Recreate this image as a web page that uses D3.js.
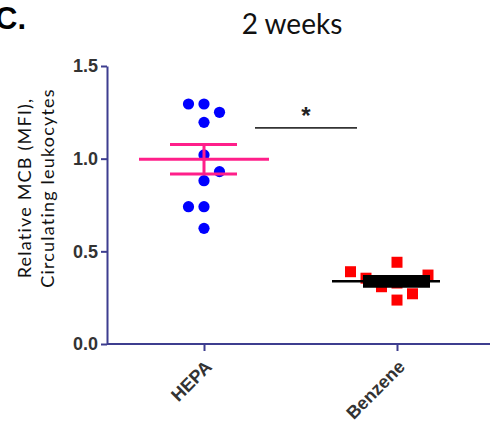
<!DOCTYPE html>
<html>
<head>
<meta charset="utf-8">
<script src="https://cdn.jsdelivr.net/npm/d3@7"></script>
<style>
  html, body { margin: 0; padding: 0; background: #fff; }
  svg { display: block; }
</style>
</head>
<body>
<svg id="chart" width="490" height="440"></svg>
<script>
// Groups and measured values (relative MCB, MFI)
const categories = ["HEPA", "Benzene"];
const hepaValues = [1.295, 1.295, 1.25, 1.196, 1.02, 0.93, 0.881, 0.741, 0.741, 0.624];
const benzeneValues = [0.39, 0.355, 0.309, 0.441, 0.329, 0.237, 0.338, 0.271, 0.372];
const yTicks = [0, 0.5, 1.0, 1.5];
const title = "2 weeks";
const panelLetter = "C.";
const yLabelLines = ["Relative MCB (MFI),", "Circulating leukocytes"];
const significance = { from: "HEPA", to: "Benzene", level: 1.166, text: "*" };

// Horizontal slot of each point inside its column (scatter layout)
const hepaSlots = [-1, 0, 1, 0, 0, 1, 0, -1, 0, 0];
const benzeneSlots = [-3, -2, -1, 0, 0, 0, 1, 1, 2];

const W = 490, H = 440;
const axisColor = "#3d3d8f";
const svg = d3.select("#chart");

const y = d3.scaleLinear().domain([0, 1.5]).range([344, 66]);
const x = d3.scalePoint().domain(categories).range([204, 397]);
const axisX = 107;

// Panel letter and title
svg.append("text")
  .attr("x", -5).attr("y", 29)
  .attr("font-family", "Liberation Sans, Arial, sans-serif")
  .attr("font-weight", "bold").attr("font-size", 31)
  .attr("fill", "#000")
  .text(panelLetter);

svg.append("text")
  .attr("x", 292).attr("y", 34)
  .attr("text-anchor", "middle")
  .attr("font-family", "Lato, sans-serif")
  .attr("font-size", 28)
  .attr("fill", "#111")
  .text(title);

// Y axis
const yAxis = d3.axisLeft(y)
  .tickValues(yTicks)
  .tickFormat(d3.format(".1f"))
  .tickSize(6)
  .tickSizeOuter(0)
  .tickPadding(3);

const gy = svg.append("g")
  .attr("transform", `translate(${axisX},0)`)
  .call(yAxis);
gy.select(".domain").attr("stroke", axisColor).attr("stroke-width", 2);
gy.selectAll(".tick line").attr("stroke", axisColor).attr("stroke-width", 2);
gy.selectAll(".tick text")
  .attr("font-family", "Liberation Sans, Arial, sans-serif")
  .attr("font-weight", "bold")
  .attr("font-size", 18)
  .attr("fill", "#333");

// Y axis title (two lines, rotated)
const yl = svg.append("text")
  .attr("transform", "translate(0,188) rotate(-90)")
  .attr("text-anchor", "middle")
  .attr("font-family", "Lato, sans-serif")
  .attr("font-size", 18)
  .attr("letter-spacing", 1.2)
  .attr("fill", "#111");
yl.selectAll("tspan").data(yLabelLines).join("tspan")
  .attr("x", 0)
  .attr("y", (d, i) => 31 + i * 23)
  .text(d => d);

// X axis
svg.append("line")
  .attr("x1", axisX).attr("x2", W)
  .attr("y1", y(0)).attr("y2", y(0))
  .attr("stroke", axisColor).attr("stroke-width", 2);

const xAxis = d3.axisBottom(x).tickSize(7).tickSizeOuter(0).tickFormat("");
const gx = svg.append("g")
  .attr("transform", `translate(0,${y(0)})`)
  .call(xAxis);
gx.select(".domain").remove();
gx.selectAll(".tick line").attr("stroke", axisColor).attr("stroke-width", 2);

svg.append("g").selectAll("text").data(categories).join("text")
  .attr("transform", d => `translate(${x(d) + 9},${y(0) + 24}) rotate(-45)`)
  .attr("text-anchor", "end")
  .attr("font-family", "Liberation Sans, Arial, sans-serif")
  .attr("font-weight", "bold")
  .attr("font-size", 18)
  .attr("fill", "#333")
  .text(d => d);

// Points
const slotW = 15.5;
svg.append("g").selectAll("circle").data(hepaValues).join("circle")
  .attr("cx", (d, i) => x("HEPA") + hepaSlots[i] * slotW)
  .attr("cy", d => y(d))
  .attr("r", 5.6)
  .attr("fill", "#0000ff");

const sq = 11;
svg.append("g").selectAll("rect").data(benzeneValues).join("rect")
  .attr("x", (d, i) => x("Benzene") + benzeneSlots[i] * slotW - sq / 2)
  .attr("y", d => y(d) - sq / 2)
  .attr("width", sq).attr("height", sq)
  .attr("fill", "#ff0000");

// Mean and SEM
function stats(v) {
  const m = d3.mean(v);
  const sem = d3.deviation(v) / Math.sqrt(v.length);
  return { m, sem };
}
const groups = [
  { key: "HEPA", values: hepaValues, color: "#ff1f8a", meanL: 65, meanR: 65, capW: 3, meanW: 3 },
  { key: "Benzene", values: benzeneValues, color: "#000", meanL: 65, meanR: 43, capW: 5, meanW: 2.5 }
];
const capL = 34, capR = 33;
groups.forEach(g => {
  const { m, sem } = stats(g.values);
  const cx = x(g.key);
  const s = svg.append("g").attr("stroke", g.color);
  s.append("line").attr("x1", cx - g.meanL).attr("x2", cx + g.meanR)
    .attr("y1", y(m)).attr("y2", y(m)).attr("stroke-width", g.meanW);
  s.append("line").attr("x1", cx).attr("x2", cx)
    .attr("y1", y(m + sem)).attr("y2", y(m - sem)).attr("stroke-width", 3);
  [m + sem, m - sem].forEach(v => {
    s.append("line").attr("x1", cx - capL).attr("x2", cx + capR)
      .attr("y1", y(v)).attr("y2", y(v)).attr("stroke-width", g.capW);
  });
  // fill between caps where they nearly touch
  if (g.capW > 3) {
    s.append("rect")
      .attr("x", cx - capL).attr("width", capL + capR)
      .attr("y", y(m + sem)).attr("height", y(m - sem) - y(m + sem))
      .attr("fill", g.color).attr("stroke", "none");
  }
});

// Significance marker
const sigY = y(significance.level);
const sx1 = x(significance.from) + 51, sx2 = x(significance.to) - 40;
svg.append("line")
  .attr("x1", sx1).attr("x2", sx2)
  .attr("y1", sigY).attr("y2", sigY)
  .attr("stroke", "#333").attr("stroke-width", 1.6);
svg.append("text")
  .attr("x", (sx1 + sx2) / 2).attr("y", sigY - 4)
  .attr("text-anchor", "middle")
  .attr("font-family", "Liberation Sans, Arial, sans-serif")
  .attr("font-weight", "bold")
  .attr("font-size", 24)
  .attr("fill", "#222")
  .text(significance.text);
</script>
</body>
</html>
